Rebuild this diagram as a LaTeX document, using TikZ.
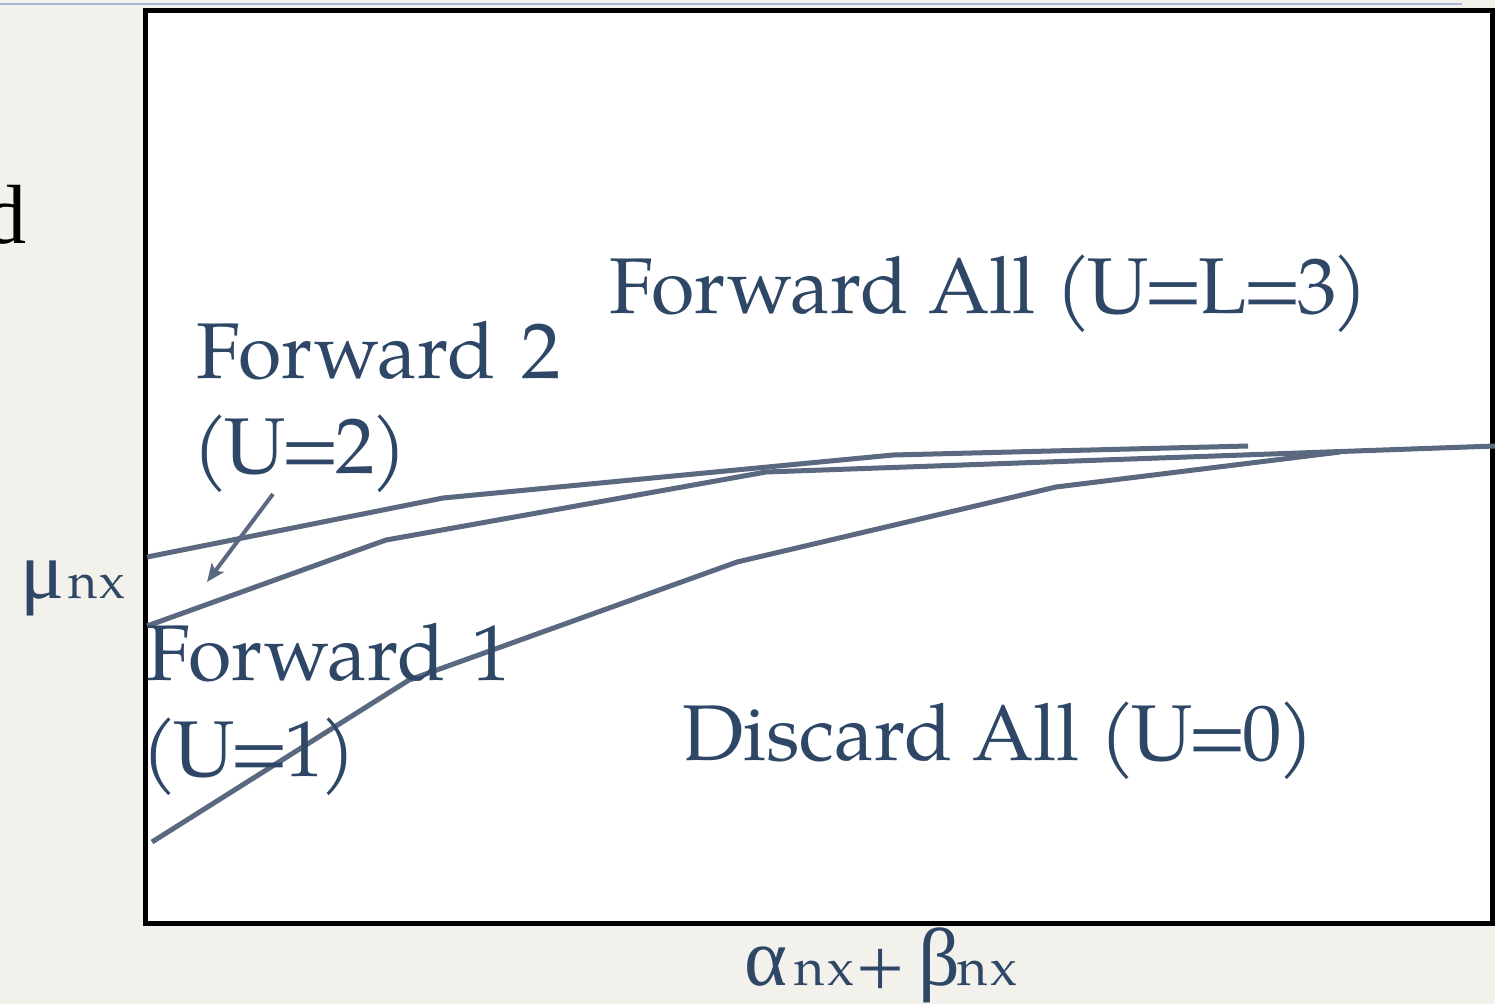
\documentclass[tikz,border=0pt]{standalone}
\usepackage{fontspec}
\setmainfont{Liberation Serif}
\newfontfamily\pal{texgyrepagella-regular.otf}
\newfontfamily\grk{Liberation Serif}
\usetikzlibrary{arrows.meta}
\definecolor{txt}{HTML}{2E4766}
\definecolor{ln}{HTML}{5A6880}
\definecolor{bg}{HTML}{F3F1EC}
\definecolor{topln}{HTML}{A8B8CE}
\newcommand{\eqk}{\kern-5pt=\kern-5pt}
\newcommand{\lpk}{(\kern-4pt}
\newcommand{\rpk}{\kern-4pt)}
\begin{document}
\begin{tikzpicture}[x=1pt,y=-1pt,
  lbl/.style={anchor=base west,inner sep=0pt,text=txt,font=\pal\fontsize{79}{95}\selectfont},
  sub/.style={anchor=base west,inner sep=0pt,text=txt,font=\pal\fontsize{52}{52}\selectfont},
  big/.style={anchor=base west,inner sep=0pt,text=txt,font=\grk\fontsize{82}{82}\selectfont},
  curve/.style={draw=ln,line width=5pt,line join=round},
  pointer/.style={draw=ln,line width=4pt,-{Stealth[length=18pt,width=15pt,inset=4pt]}}]
\useasboundingbox (0,0) rectangle (1495,1004);
\clip (0,0) rectangle (1495,1004);
\fill[bg] (0,0) rectangle (1495,1004);
\draw[topln,line width=2.5pt] (0,4) -- (1462,4);
\node[anchor=base east,inner sep=0pt,text=black,font=\grk\fontsize{84}{84}\selectfont] (dd) at (27,243) {d};
\draw[black,fill=white,line width=5pt] (145.5,10.5) rectangle (1492.5,923.5);
% curves
\draw[curve] (147,557) -- (443,498) -- (893,455) -- (1248,446);
\draw[curve] (147,626) -- (386,540) -- (766,472) -- (1495,446);
\draw[curve] (152,842) -- (409,680) -- (737,562) -- (1056,487) -- (1340,452);
% labels
\node[lbl] (fa) at (609,313) {Forward All \lpk U\eqk L\eqk 3\rpk};
\node[lbl] (f2a) at (196,378) {Forward\kern6pt\ 2};
\node[lbl] (f2b) at (192,473) {\lpk U\eqk 2\rpk};
\node[lbl] (f1a) at (146,680) {Forward\kern6pt\ 1};
\node[lbl] (f1b) at (141,776) {\lpk U\eqk 1\rpk};
\node[lbl] (da) at (682,760) {Discard All \lpk U\eqk 0\rpk};
% arrow
\coordinate (as) at (273,494);
\coordinate (ae) at (207,582);
\draw[pointer] (as) -- (ae);
% axis labels
\node[big] (mu) at (20,598) {μ};
\node[sub,font=\pal\fontsize{50}{50}\selectfont] (mun) at (68,598) {n\kern2pt x};
\node[big] (al) at (744,985) {α};
\node[sub] (aln) at (794,985) {n\kern3pt x};
\node[anchor=base west,inner sep=0pt,text=txt,font=\pal\fontsize{66}{66}\selectfont] (pl) at (855,985) {+};
\node[big] (be) at (918,985) {β};
\node[sub] (ben) at (957,985) {n\kern3pt x};
\end{tikzpicture}
\end{document}
